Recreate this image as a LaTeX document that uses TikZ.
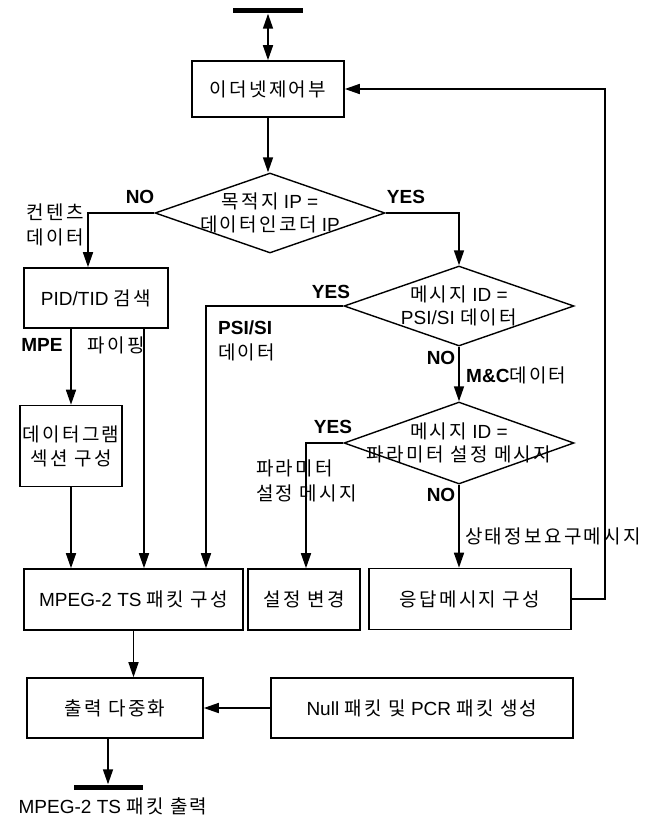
\documentclass[tikz,border=0pt]{standalone}
\usepackage{fontspec}
\setmainfont{Liberation Sans}
\newfontfamily\krfont[LetterSpace=12]{Noto Sans CJK KR}
\newcommand\kr[1]{{\krfont #1}}
\usetikzlibrary{arrows.meta,shapes.geometric,positioning}
\tikzset{
myBox/.style={
	rectangle,draw,line width=1.6pt,
	inner sep=0pt,align=center,
	font=\fontsize{19}{24}\selectfont
}
, myDecision/.style={
	diamond,draw,line width=1.4pt,
	inner sep=0pt,minimum width=230pt,minimum height=80pt
}
, myText/.style={align=center,inner sep=0pt,font=\fontsize{19}{23}\selectfont}
, myBar/.style={rectangle,fill=black,inner sep=0pt,minimum height=5pt}
% labels
, myLabel/.style={inner sep=0pt,font=\fontsize{19}{24}\selectfont\bfseries}
, myNote/.style={inner sep=0pt,align=left,font=\fontsize{19}{25}\selectfont}
% links
, myFlow/.style={-{Triangle[length=15pt,width=10pt]},line width=1.6pt}
, myBoth/.style={{Triangle[length=15pt,width=10pt]}-{Triangle[length=15pt,width=10pt]},line width=1.6pt}
}
\begin{document}
\begin{tikzpicture}[x=1pt,y=-1pt]
	\useasboundingbox (0,0) rectangle (658,816);
	% nodes
	\node[myBar,minimum width=70pt] (inBar) at (268,11) {};
	\node[myBox,minimum width=152pt,minimum height=56pt] (ether) at (268,89) {\kr{이더넷제어부}};
	\node[myDecision,label={[myText]center:{\kr{목적지} IP =\\\kr{데이터인코더} IP}}] (destIP) at (270,213) {};
	\node[myBox,minimum width=144pt,minimum height=60pt] (pidSearch) at (96,298) {PID/TID \kr{검색}};
	\node[myDecision,label={[myText]center:{\kr{메시지} ID =\\PSI/SI \kr{데이터}}}] (msgPSI) at (459,306) {};
	\node[myDecision,minimum height=82pt,label={[myText]center:{\kr{메시지} ID =\\\kr{파라미터 설정 메시지}}}] (msgParam) at (459,443) {};
	\node[myBox,minimum width=102pt,minimum height=81pt] (dgram) at (71,446) {\kr{데이터그램}\\\kr{섹션 구성}};
	% bottom row
	\node[myBox,minimum width=219pt,minimum height=61pt] (tsPacket) at (133.5,599.5) {MPEG-2 TS \kr{패킷 구성}};
	\node[myBox,minimum width=112pt,minimum height=61pt] (setChange) at (304,599.5) {\kr{설정 변경}};
	\node[myBox,minimum width=202pt,minimum height=61pt] (respMsg) at (470,599) {\kr{응답메시지 구성}};
	\node[myBox,minimum width=176pt,minimum height=60pt] (outMux) at (115,708) {\kr{출력 다중화}};
	\node[myBox,minimum width=302pt,minimum height=60pt] (nullPcr) at (422,708) {Null \kr{패킷 및} PCR \kr{패킷 생성}};
	\node[myBar,minimum width=69pt] (outBar) at (108,787) {};
	\node[myNote] (outLabel) at (113,806) {MPEG-2 TS \kr{패킷 출력}};

	% labels
	\node[myLabel] (noDest) at (140,197) {NO};
	\node[myNote,anchor=east,align=right] (contentLbl) at (84,225) {\kr{컨텐츠}\\\kr{데이터}};
	\node[myLabel] (yesDest) at (406,197) {YES};
	\node[myLabel] (mpeLbl) at (42,345) {MPE};
	\node[myNote] (pipeLbl) at (116,345) {\kr{파이핑}};
	\node[myLabel] (yesPSI) at (331,292) {YES};
	\node[myNote,anchor=west] (psiLbl) at (218,341) {\textbf{PSI/SI}\\\kr{데이터}};
	\node[myLabel] (noPSI) at (441,358) {NO};
	\node[myNote,anchor=west] (mcLbl) at (466,375) {\textbf{M\&C}\kr{데이터}};
	\node[myLabel] (yesParam) at (333,427) {YES};
	\node[myNote,anchor=west] (paramLbl) at (256,481) {\kr{파라미터}\\\kr{설정 메시지}};
	\node[myLabel] (noParam) at (441,495) {NO};
	\node[myNote,anchor=west] (statusLbl) at (465,536) {\kr{상태정보요구메시지}};

	% links
	\draw[myBoth] (inBar.south) -- (ether.north);
	\draw[myFlow] (ether.south) -- (ether.south |- destIP.north);
	\draw[myFlow] (destIP.west) -| ([xshift=-8pt]pidSearch.north);
	\draw[myFlow] (destIP.east) -| (msgPSI.north);
	\draw[myFlow] (dgram.north |- pidSearch.south) -- (dgram.north);
	\draw[myFlow] ([xshift=48pt]pidSearch.south) -- ([xshift=48pt]pidSearch.south |- tsPacket.north);
	\draw[myFlow] (dgram.south) -- (dgram.south |- tsPacket.north);
	\draw[myFlow] (msgPSI.west) -| ([xshift=72.5pt]tsPacket.north);
	\draw[myFlow] (msgPSI.south) -- (msgParam.north);
	\draw[myFlow] (msgParam.west) -| ([xshift=2pt]setChange.north);
	\draw[myFlow] (msgParam.south) -- (msgParam.south |- respMsg.north);
	\draw[myFlow] (respMsg.east) -- ++(33,0) |- (ether.east);
	\draw[myFlow] (tsPacket.south) -- (tsPacket.south |- outMux.north);
	\draw[myFlow] (nullPcr.west) -- (outMux.east);
	\draw[myFlow] (outBar.north |- outMux.south) -- (outBar.north);
\end{tikzpicture}
\end{document}
